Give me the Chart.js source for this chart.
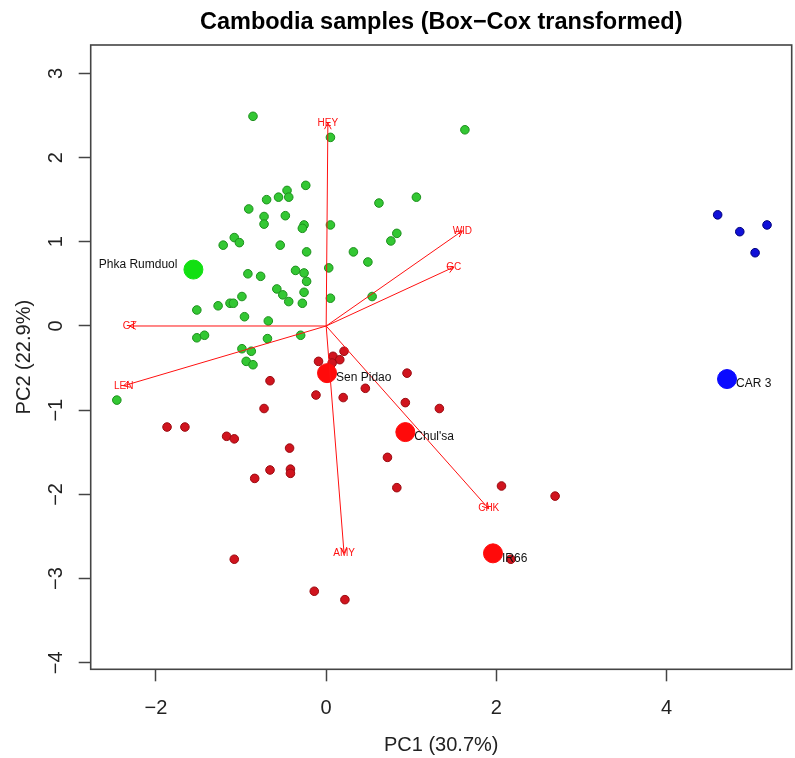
<!DOCTYPE html>
<html>
<head>
<meta charset="utf-8">
<script src="https://cdn.jsdelivr.net/npm/chart.js@4.4.1/dist/chart.umd.min.js"></script>
<style>
html, body { margin: 0; padding: 0; background: #fff; overflow: hidden; }
#wrap { width: 795px; height: 758px; }
</style>
</head>
<body>
<div id="wrap"><canvas id="biplot"></canvas></div>
<script>
"use strict";

/*
    PCA biplot, scores + loadings
*/

const x_ticks = [-2, 0, 2, 4];
const y_ticks = [-4, -3, -2, -1, 0, 1, 2, 3];

// samples, coloured by group
const green_x = [-0.86, 0.05, -0.24, -0.46, -0.56, -0.44, -0.70, -0.91, -0.73, -0.48,
                 -0.73, -0.26, -0.28, 0.05, -1.08, -1.02, -1.21, -0.54, -0.23, 0.03,
                 -0.36, -0.26, -0.23, -0.92, -0.77, -0.58, -0.51, -0.26, -0.99, -0.44,
                 -0.28, 0.05, -1.13, -1.09, -1.27, -1.52, -0.96, -0.68, -1.52, -1.43,
                 -0.69, -0.30, -0.99, -0.88, -0.94, -0.86, -2.46, 1.63, 0.62, 1.06,
                 0.83, 0.76, 0.32, 0.49, 0.54];
const green_y = [2.49, 2.24, 1.67, 1.61, 1.53, 1.53, 1.50, 1.39, 1.30, 1.31,
                 1.21, 1.20, 1.16, 1.20, 1.05, 0.99, 0.96, 0.96, 0.88, 0.69,
                 0.66, 0.63, 0.53, 0.62, 0.59, 0.44, 0.37, 0.40, 0.35, 0.29,
                 0.27, 0.33, 0.27, 0.27, 0.24, 0.19, 0.11, 0.06, -0.14, -0.11,
                 -0.15, -0.11, -0.27, -0.30, -0.42, -0.46, -0.88, 2.33, 1.46, 1.53,
                 1.10, 1.01, 0.88, 0.76, 0.35];

const red_x = [-0.66, -0.09, 0.08, 0.21, 0.16, 0.07, -0.12, 0.20, 0.46, -0.73,
               -1.87, -1.66, -1.17, -1.08, -0.43, -0.66, -0.42, -0.42, -0.84, -1.08,
               -0.14, 0.22, 0.95, 0.93, 1.33, 0.72, 0.83, 2.06, 2.69, 2.17];
const red_y = [-0.65, -0.42, -0.36, -0.30, -0.40, -0.44, -0.82, -0.85, -0.74, -0.98,
               -1.20, -1.20, -1.31, -1.34, -1.45, -1.71, -1.70, -1.75, -1.81, -2.77,
               -3.15, -3.25, -0.56, -0.91, -0.98, -1.56, -1.92, -1.90, -2.02, -2.77];

const blue_x = [4.60, 4.86, 5.18, 5.04];
const blue_y = [1.32, 1.12, 1.20, 0.87];

// named varieties (big dots)
const variety_names = ["Phka Rumduol", "Sen Pidao", "Chul'sa", "IR66", "CAR 3"];
const variety_x = [-1.56, 0.01, 0.93, 1.96, 4.71];
const variety_y = [0.67, -0.56, -1.26, -2.70, -0.63];
const variety_group = ["green", "red", "red", "red", "blue"];

// trait loadings (arrow tips)
const traits = ["HEY", "WID", "GC", "GT", "LEN", "AMY", "CHK"];
const load_x = [0.02, 1.60, 1.50, -2.31, -2.38, 0.21, 1.91];
const load_y = [2.41, 1.13, 0.70, 0.00, -0.71, -2.70, -2.17];

const FONT = "'Liberation Sans', Arial, sans-serif";

const colours = {
    green: { fill: "#33c733", edge: "#1c8f1c", big: "#12e012" },
    red:   { fill: "#d0141e", edge: "#9a0a10", big: "#ff0a0a" },
    blue:  { fill: "#1010d8", edge: "#00007a", big: "#0a0aff" }
};

function to_points(X, Y) {
    return X.map((x, i) => ({x: x, y: Y[i]}));
}

function minus_label(v) {
    return v < 0 ? "\u2212" + Math.abs(v) : String(v);
}

function small_set(name, X, Y) {
    return {
        label: name,
        data: to_points(X, Y),
        pointRadius: 4.3,
        pointHoverRadius: 4.3,
        pointBackgroundColor: colours[name].fill,
        pointBorderColor: colours[name].edge,
        pointBorderWidth: 1,
        order: 3
    };
}

function variety_set(name) {
    let idx = variety_group.map((g, i) => g === name ? i : -1).filter(i => i >= 0);
    return {
        label: name + " varieties",
        data: idx.map(i => ({x: variety_x[i], y: variety_y[i]})),
        pointRadius: 9.5,
        pointHoverRadius: 9.5,
        pointBackgroundColor: colours[name].big,
        pointBorderColor: colours[name].big,
        pointBorderWidth: 1,
        order: 2
    };
}

let datasets = [
    small_set("green", green_x, green_y),
    small_set("red", red_x, red_y),
    small_set("blue", blue_x, blue_y),
    variety_set("green"),
    variety_set("red"),
    variety_set("blue")
];

traits.forEach((t, i) => {
    datasets.push({
        label: t,
        data: [{x: 0, y: 0}, {x: load_x[i], y: load_y[i]}],
        showLine: true,
        borderColor: "#ff1010",
        borderWidth: 1,
        pointRadius: 0,
        fill: false,
        order: 1
    });
});

const frame_plugin = {
    id: "frame",
    afterDraw: function (chart) {
        const a = chart.chartArea;
        const ctx = chart.ctx;
        ctx.save();
        ctx.strokeStyle = "#444";
        ctx.lineWidth = 1.6;
        ctx.strokeRect(a.left, a.top, a.right - a.left, a.bottom - a.top);
        ctx.restore();
    }
};

const biplot_text_plugin = {
    id: "biplot_text",
    afterDatasetsDraw: function (chart) {
        const sx = chart.scales.x;
        const sy = chart.scales.y;
        const ctx = chart.ctx;
        const x0 = sx.getPixelForValue(0);
        const y0 = sy.getPixelForValue(0);
        ctx.save();

        // arrow heads + trait names
        ctx.strokeStyle = "#ff1010";
        ctx.fillStyle = "#ff1010";
        ctx.lineWidth = 1;
        ctx.font = "10px " + FONT;
        ctx.textAlign = "center";
        ctx.textBaseline = "middle";
        traits.forEach((t, i) => {
            let x1 = sx.getPixelForValue(load_x[i]);
            let y1 = sy.getPixelForValue(load_y[i]);
            let ang = Math.atan2(y1 - y0, x1 - x0);
            ctx.beginPath();
            ctx.moveTo(x1 - 7 * Math.cos(ang - 0.5), y1 - 7 * Math.sin(ang - 0.5));
            ctx.lineTo(x1, y1);
            ctx.lineTo(x1 - 7 * Math.cos(ang + 0.5), y1 - 7 * Math.sin(ang + 0.5));
            ctx.stroke();
            ctx.fillText(t, x1, y1);
        });

        // variety names
        ctx.fillStyle = "#111";
        ctx.font = "12px " + FONT;
        variety_names.forEach((n, i) => {
            let px = sx.getPixelForValue(variety_x[i]);
            let py = sy.getPixelForValue(variety_y[i]);
            if (i === 0) {
                ctx.textAlign = "right";
                ctx.fillText(n, px - 16, py - 5);
            } else {
                ctx.textAlign = "left";
                ctx.fillText(n, px + 9, py + 5);
            }
        });
        ctx.restore();
    }
};

const axis_font = { family: FONT, size: 20 };

let ctx = document.getElementById("biplot").getContext("2d");
window.biplot_chart = new Chart(ctx, {
    type: "scatter",
    data: { datasets: datasets },
    options: {
        responsive: true,
        maintainAspectRatio: false,
        animation: false,
        events: [],
        layout: { autoPadding: false, padding: { left: 0, right: 3.3, top: 0, bottom: 0 } },
        plugins: {
            legend: { display: false },
            tooltip: { enabled: false },
            title: {
                display: true,
                fullSize: false,
                text: "Cambodia samples (Box\u2212Cox transformed)",
                color: "#000",
                font: { family: FONT, size: 23.5, weight: "bold" },
                padding: { top: 8.5, bottom: 8.3 }
            }
        },
        scales: {
            x: {
                type: "linear",
                min: -2.767,
                max: 5.47,
                afterBuildTicks: s => { s.ticks = x_ticks.map(v => ({value: v})); },
                afterFit: s => { s.height = 88.7; },
                border: { display: false },
                grid: { drawOnChartArea: false, drawTicks: true, tickLength: 12, tickColor: "#444", tickWidth: 1.5 },
                ticks: { font: axis_font, color: "#222", padding: 15, callback: minus_label },
                title: { display: true, text: "PC1 (30.7%)", font: axis_font, color: "#222", padding: { top: 0, bottom: 1 } }
            },
            y: {
                type: "linear",
                min: -4.077,
                max: 3.337,
                afterBuildTicks: s => { s.ticks = y_ticks.map(v => ({value: v})); },
                afterFit: s => { s.width = 90.7; },
                border: { display: false },
                grid: { drawOnChartArea: false, drawTicks: true, tickLength: 12, tickColor: "#444", tickWidth: 1.5 },
                ticks: { font: axis_font, color: "#222", padding: 11, minRotation: 90, maxRotation: 90, crossAlign: "center", callback: minus_label },
                title: { display: true, text: "PC2 (22.9%)", font: axis_font, color: "#222", padding: { top: 12, bottom: 0 } }
            }
        }
    },
    plugins: [frame_plugin, biplot_text_plugin]
});
</script>
</body>
</html>
